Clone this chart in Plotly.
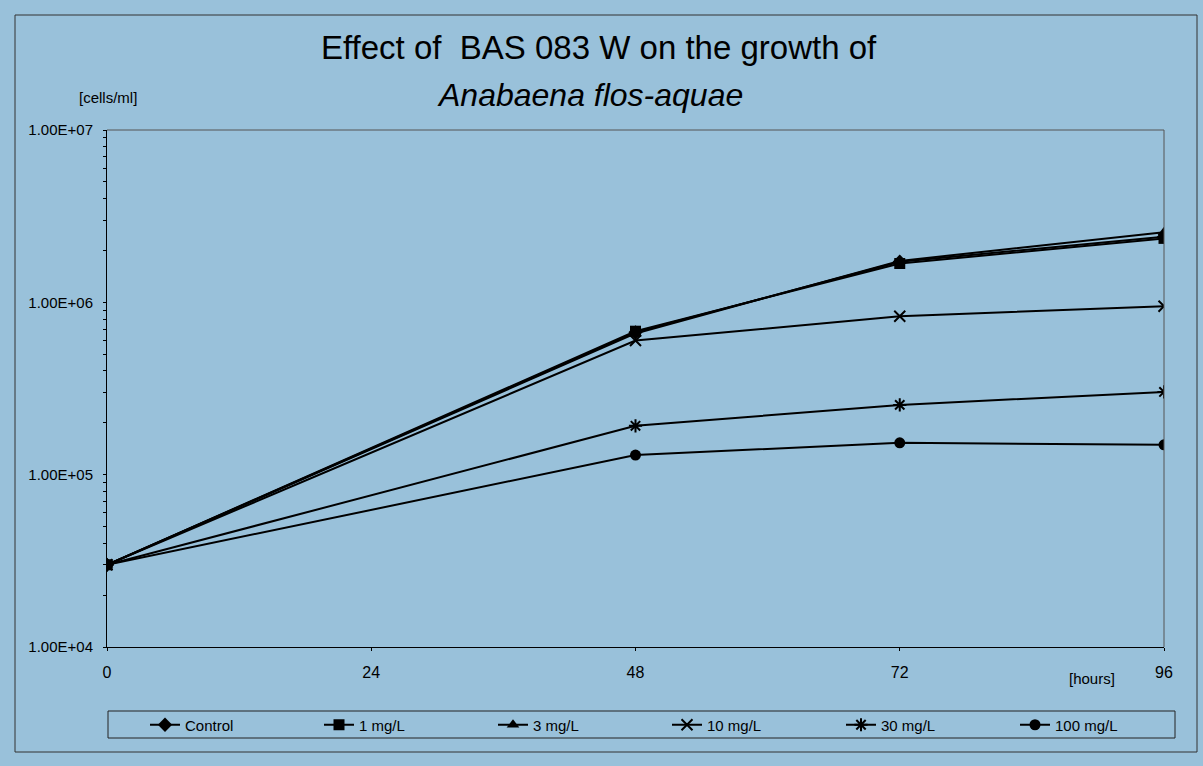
import plotly.graph_objects as go

hours = [0, 48, 72, 96]
series_names = ["Control", "1 mg/L", "3 mg/L", "10 mg/L", "30 mg/L", "100 mg/L"]
control = [3.0e4, 6.7e5, 1.72e6, 2.40e6]
mg1 = [3.0e4, 6.8e5, 1.68e6, 2.35e6]
mg3 = [3.0e4, 6.6e5, 1.74e6, 2.55e6]
mg10 = [3.0e4, 6.0e5, 8.3e5, 9.5e5]
mg30 = [3.0e4, 1.92e5, 2.54e5, 3.02e5]
mg100 = [3.0e4, 1.30e5, 1.53e5, 1.49e5]
symbols = ["diamond", "square", "triangle-up", "x-thin", "asterisk", "circle"]
y_major = [1e4, 1e5, 1e6, 1e7]
y_major_text = ["1.00E+04", "1.00E+05", "1.00E+06", "1.00E+07"]
y_minor = [m * 10 ** e for e in (4, 5, 6) for m in range(2, 10)]
x_tickvals = [0, 24, 48, 72, 96]

BG = "#99C1DA"
W, H = 1203, 766
ml, mr, mt, mb = 107, 39, 130, 119
pw, ph = W - ml - mr, H - mt - mb

def px(x):
    return (x - ml) / pw

def py(y):
    return (H - mb - y) / ph

fig = go.Figure()
all_series = [control, mg1, mg3, mg10, mg30, mg100]
for name, vals, sym in zip(series_names, all_series, symbols):
    thin = sym in ("x-thin", "asterisk")
    fig.add_trace(go.Scatter(
        x=hours, y=vals, name=name, mode="lines+markers",
        line=dict(color="black", width=2),
        marker=dict(symbol=sym, size=11, color="black",
                    line=dict(color="black", width=2 if thin else 0)),
    ))

y_tickvals = y_major + y_minor
y_ticktext = y_major_text + [""] * len(y_minor)

fig.update_layout(
    width=W, height=H,
    margin=dict(l=ml, r=mr, t=mt, b=mb, autoexpand=False),
    paper_bgcolor=BG, plot_bgcolor=BG,
    font=dict(family="Arial, Liberation Sans, sans-serif", color="black", size=14),
    showlegend=True,
    legend=dict(orientation="h", x=px(145), y=py(725), xanchor="left", yanchor="middle",
                borderwidth=0, bgcolor="rgba(0,0,0,0)",
                entrywidth=129, entrywidthmode="pixels", itemwidth=30,
                font=dict(size=15), traceorder="normal"),
    xaxis=dict(range=[0, 96], tickvals=x_tickvals, showgrid=False, zeroline=False,
               showline=True, linecolor="black", linewidth=1,
               ticks="outside", ticklen=3, tickcolor="black",
               ticklabelstandoff=8, tickfont=dict(size=16)),
    yaxis=dict(type="log", range=[4, 7], tickvals=y_tickvals, ticktext=y_ticktext,
               showgrid=False, zeroline=False, showline=True, linecolor="black",
               linewidth=1, ticks="outside", ticklen=3, tickcolor="black",
               ticklabelstandoff=7, tickfont=dict(size=15)),
    yaxis2=dict(type="log", range=[4, 7], overlaying="y", side="left", anchor="x",
                tickvals=y_tickvals, showticklabels=False, showgrid=False,
                zeroline=False, showline=False, ticks="inside", ticklen=3,
                tickcolor="black"),
    xaxis2=dict(range=[0, 96], overlaying="x", side="bottom", anchor="y",
                tickvals=x_tickvals, showticklabels=False, showgrid=False,
                zeroline=False, showline=False, ticks="inside", ticklen=3,
                tickcolor="black"),
)

# plot area top/right border
fig.add_shape(type="line", xref="paper", yref="paper", x0=0, x1=1, y0=1, y1=1,
              line=dict(color="#555", width=1))
fig.add_shape(type="line", xref="paper", yref="paper", x0=1, x1=1, y0=0, y1=1,
              line=dict(color="#555", width=1))
# outer chart border
fig.add_shape(type="rect", xref="paper", yref="paper", x0=px(15), x1=px(1197),
              y0=py(752), y1=py(15), line=dict(color="#333", width=1))
# legend box
fig.add_shape(type="rect", xref="paper", yref="paper", x0=px(108), x1=px(1175),
              y0=py(738), y1=py(711), line=dict(color="#222", width=1))

fig.add_annotation(text="Effect of  BAS 083 W on the growth of", xref="paper", yref="paper",
                   x=px(599), y=py(47), showarrow=False, font=dict(size=33),
                   xanchor="center", yanchor="middle")
fig.add_annotation(text="<i>Anabaena flos-aquae</i>", xref="paper", yref="paper",
                   x=px(590), y=py(95), showarrow=False, font=dict(size=32),
                   xanchor="center", yanchor="middle")
fig.add_annotation(text="[cells/ml]", xref="paper", yref="paper",
                   x=px(108), y=py(97), showarrow=False, font=dict(size=15),
                   xanchor="center", yanchor="middle")
fig.add_annotation(text="[hours]", xref="paper", yref="paper",
                   x=px(1092), y=py(678), showarrow=False, font=dict(size=15),
                   xanchor="center", yanchor="middle")

fig.write_html("out.html",
               config={"displayModeBar": False},
               post_script="document.body.style.margin='0px';"
                           "document.body.style.overflow='hidden';")
